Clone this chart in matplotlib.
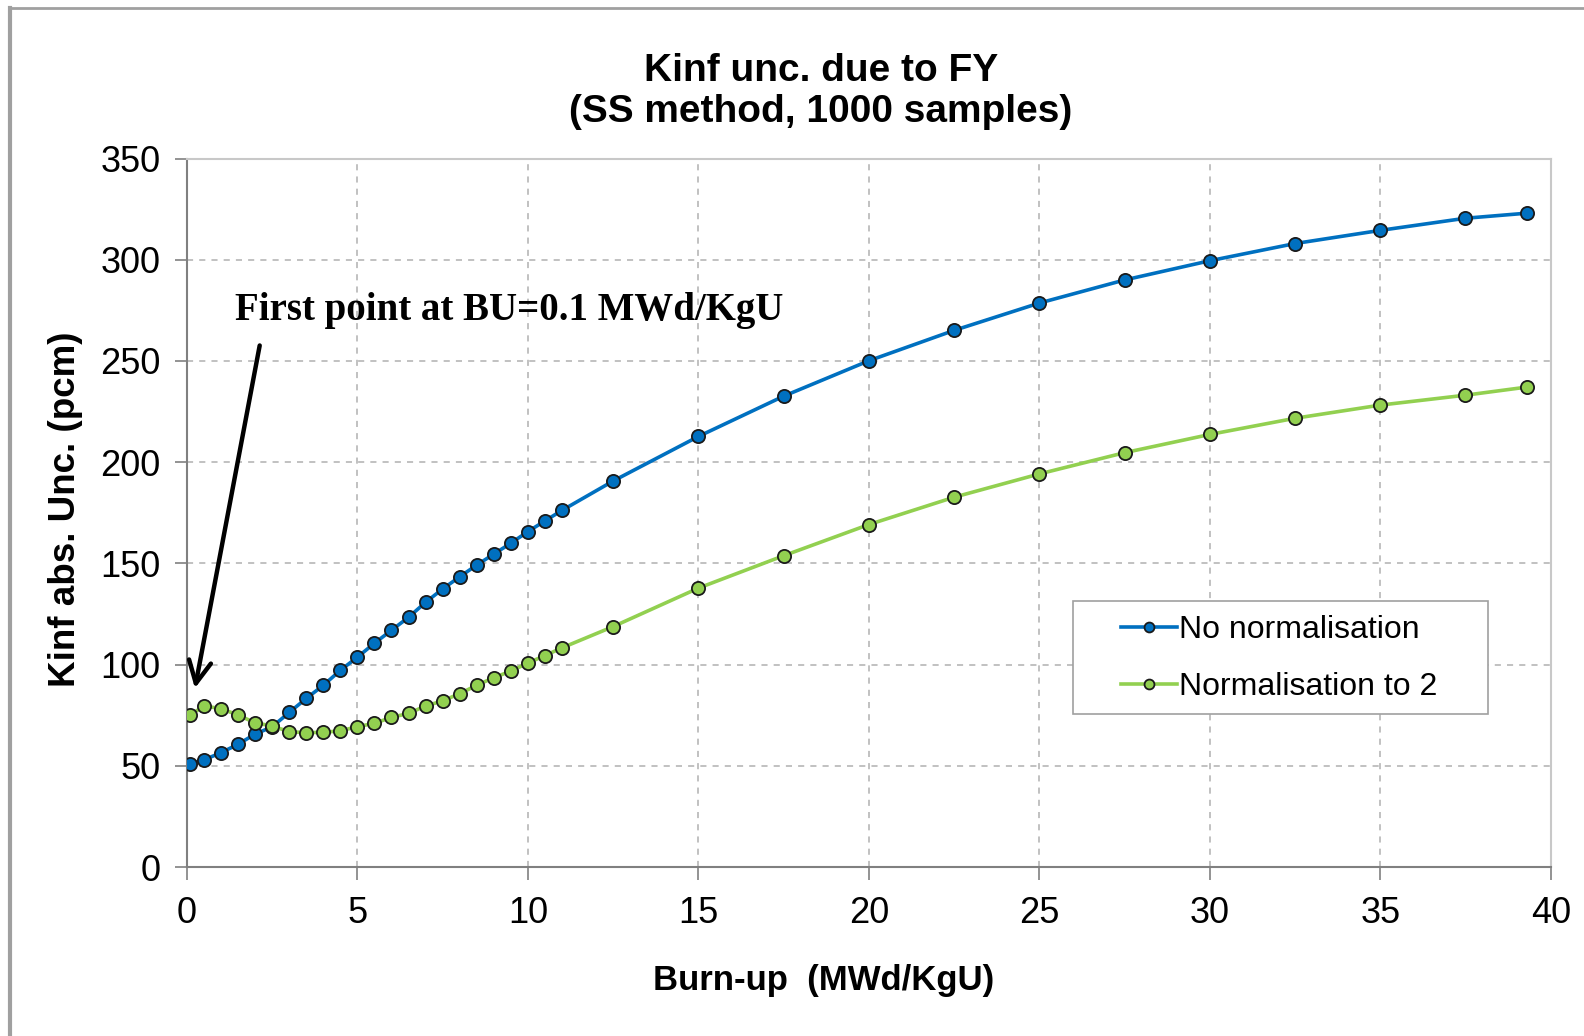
import matplotlib
matplotlib.use("Agg")
import matplotlib.pyplot as plt  # type: ignore
from matplotlib.lines import Line2D  # type: ignore
from matplotlib.patches import Rectangle  # type: ignore

# Dados
burnup = [0.1, 0.5, 1.0, 1.5, 2.0, 2.5, 3.0, 3.5, 4.0, 4.5, 5.0, 5.5, 6.0,
          6.5, 7.0, 7.5, 8.0, 8.5, 9.0, 9.5, 10.0, 10.5, 11.0,
          12.5, 15.0, 17.5, 20.0, 22.5, 25.0, 27.5, 30.0, 32.5, 35.0, 37.5, 39.3]

sem_norm = [51.0, 53.0, 56.5, 60.7, 65.7, 69.3, 76.4, 83.3, 89.8, 97.2, 103.7,
            110.6, 117.0, 123.4, 130.8, 137.4, 143.4, 149.2, 154.6, 160.0, 165.7,
            171.0, 176.2,
            190.7, 212.7, 232.6, 250.1, 265.1, 278.6, 290.0, 299.5, 308.0, 314.5,
            320.5, 323.0]

norm_2 = [75.1, 79.6, 78.3, 75.1, 71.3, 69.7, 66.9, 66.4, 66.6, 67.3, 69.4,
          71.0, 74.0, 75.9, 79.6, 82.1, 85.7, 89.8, 93.6, 96.8, 100.8, 104.5,
          108.3,
          118.8, 137.8, 153.8, 169.2, 182.7, 194.2, 204.7, 213.7, 221.7, 228.2,
          233.1, 237.1]

x_ticks = [0, 5, 10, 15, 20, 25, 30, 35, 40]
y_ticks = [0, 50, 100, 150, 200, 250, 300, 350]

AZUL = "#0070C0"
VERDE = "#92D050"

plt.rcParams["font.family"] = ["Liberation Sans", "DejaVu Sans"]

fig = plt.figure(figsize=(15.84, 10.36), dpi=100)
ax = fig.add_axes([0.118, 0.163, 0.861, 0.684])

ax.plot(burnup, sem_norm, color=AZUL, lw=2.6, marker="o", ms=9.5,
        mfc=AZUL, mec="#1a1a1a", mew=1.3, label="No normalisation", zorder=3)
ax.plot(burnup, norm_2, color=VERDE, lw=2.6, marker="o", ms=9.5,
        mfc=VERDE, mec="#1a1a1a", mew=1.3, label="Normalisation to 2", zorder=3)

ax.set_xlim(0, 40)
ax.set_ylim(0, 350)
ax.set_xticks(x_ticks)
ax.set_yticks(y_ticks)
ax.tick_params(labelsize=26, length=9, width=1.2, color="#808080",
               direction="out")
ax.tick_params(axis="x", pad=12)
ax.tick_params(axis="y", pad=10)
ax.grid(True, ls=(0, (4, 4)), color="#b0b0b0", lw=1.1)
for lado in ["left", "bottom"]:
    ax.spines[lado].set_color("#808080")
    ax.spines[lado].set_linewidth(1.5)
for lado in ["top", "right"]:
    ax.spines[lado].set_color("#c8c8c8")
    ax.spines[lado].set_linewidth(1.5)

ax.set_title("Kinf unc. due to FY\n(SS method, 1000 samples)", x=0.465,
             fontsize=28, fontweight="bold", pad=26, linespacing=1.2)
ax.set_xlabel("Burn-up  (MWd/KgU)", fontsize=25, fontweight="bold")
ax.xaxis.set_label_coords(0.467, -0.136)
ax.set_ylabel("Kinf abs. Unc. (pcm)", fontsize=26.5, fontweight="bold")
ax.yaxis.set_label_coords(-0.076, 0.505)

# Anotação com seta
ax.annotate("", xy=(0.22, 87.0), xytext=(2.15, 259),
            arrowprops=dict(arrowstyle="->", color="black", lw=3.2,
                            mutation_scale=40))
ax.text(1.4, 275, "First point at BU=0.1 MWd/KgU", fontsize=28,
        fontweight="bold", family=["Liberation Serif", "DejaVu Serif"],
        va="center", ha="left")

# Legenda sem moldura própria; caixa desenhada à parte
leg = ax.legend(loc="center left", bbox_to_anchor=(0.673, 0.294), fontsize=23,
                frameon=False, handlelength=1.75, handletextpad=0.08,
                borderpad=0.0, labelspacing=0.85, markerscale=0.75)
ax.add_patch(Rectangle((0.6496, 0.2168), 0.3044, 0.1582, transform=ax.transAxes,
                       fill=True, facecolor="white", edgecolor="#a0a0a0",
                       lw=1.2, zorder=4))
leg.set_zorder(5)

# Moldura externa (esquerda e topo)
fig.add_artist(Line2D([0.0065, 0.0065], [0.0, 0.992], transform=fig.transFigure,
                      color="#a0a0a0", lw=3))
fig.add_artist(Line2D([0.0065, 1.0], [0.992, 0.992], transform=fig.transFigure,
                      color="#a0a0a0", lw=2))

fig.savefig("out.png", dpi=100)
